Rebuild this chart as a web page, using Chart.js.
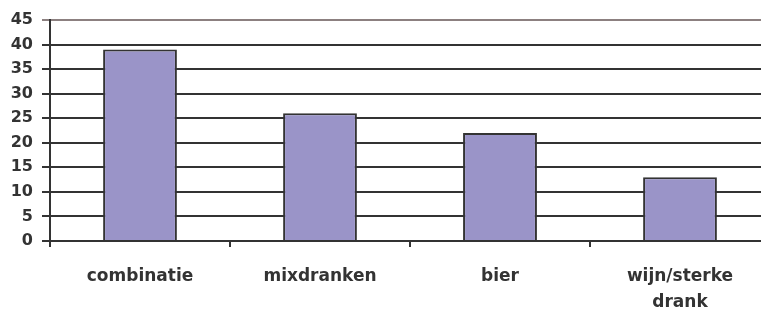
<!DOCTYPE html>
<html>
<head>
<meta charset="utf-8">
<script src="https://cdn.jsdelivr.net/npm/chart.js@4"></script>
<style>
  html, body { margin:0; padding:0; background:#fff; overflow:hidden; }
  #wrap { width:780px; height:309px; }
</style>
</head>
<body>
<div id="wrap"><canvas id="chart" width="780" height="309"></canvas></div>
<script>
// data
const categories = ['combinatie', 'mixdranken', 'bier', ['wijn/sterke', 'drank']];
const values = [39, 26, 22, 13];
const yTicks = [0, 5, 10, 15, 20, 25, 30, 35, 40, 45];

const ink = '#333333';
const fam = '"DejaVu Sans", Arial, sans-serif';

new Chart(document.getElementById('chart').getContext('2d'), {
  type: 'bar',
  data: {
    labels: categories,
    datasets: [{
      data: values,
      backgroundColor: '#9a94c8',
      borderColor: ink,
      borderWidth: 2,
      categoryPercentage: 0.41,
      barPercentage: 1
    }]
  },
  options: {
    responsive: false,
    animation: false,
    layout: { padding: { top: 20, left: 0, right: 10, bottom: 0 } },
    plugins: { legend: { display: false }, tooltip: { enabled: false } },
    scales: {
      x: {
        grid: { drawOnChartArea: false, drawTicks: true, tickLength: 6, color: ink, lineWidth: 2 },
        border: { color: ink, width: 2 },
        ticks: { color: ink, font: { family: fam, size: 17, weight: 'bold', lineHeight: 1.55 }, padding: 16, maxRotation: 0, autoSkip: false },
        afterFit: s => { s.height = 68; }
      },
      y: {
        min: 0, max: 45,
        afterBuildTicks: s => { s.ticks = yTicks.map(v => ({ value: v })); },
        grid: {
          color: c => c.tick && c.tick.value === 45 ? '#8c8080' : ink,
          lineWidth: 2,
          tickLength: 8
        },
        border: { color: ink, width: 2 },
        ticks: { color: ink, font: { family: fam, size: 16, weight: 'bold' }, padding: 9 },
        afterFit: s => { s.width = 50; }
      }
    }
  }
});
</script>
</body>
</html>
